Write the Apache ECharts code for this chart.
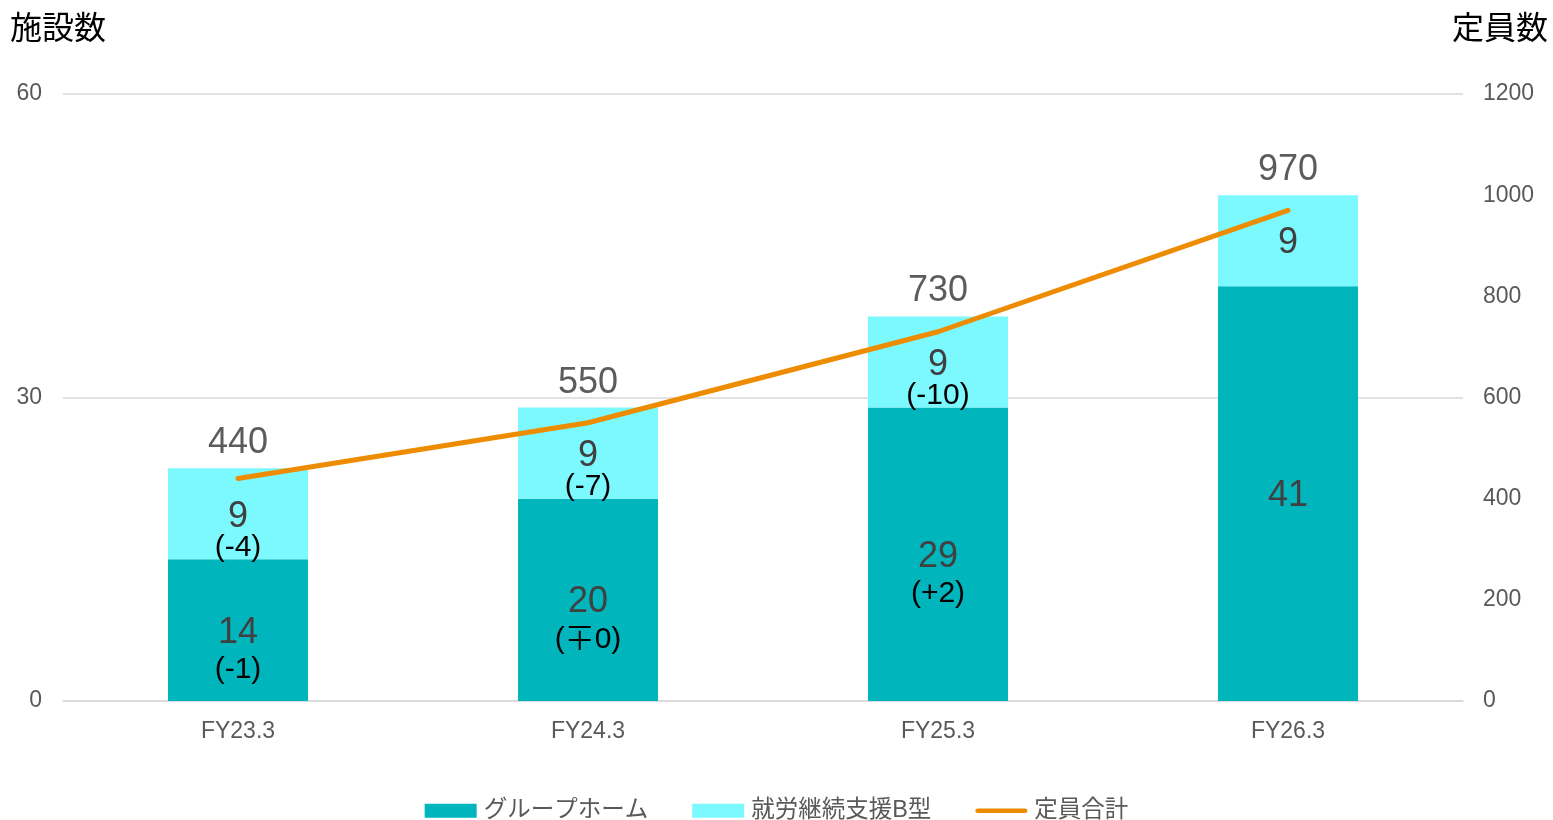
<!DOCTYPE html>
<html>
<head>
<meta charset="utf-8">
<script src="https://cdn.jsdelivr.net/npm/echarts@6/dist/echarts.min.js"></script>
<style>
  html, body { margin: 0; padding: 0; background: #ffffff; }
  #chart { width: 1553px; height: 820px; }
</style>
</head>
<body>
<div id="chart"></div>
<script>
// Fiscal years on the category axis
const categories = ['FY23.3', 'FY24.3', 'FY25.3', 'FY26.3'];
// Facility counts by type (left axis)
const groupHome = [14, 20, 29, 41];
const employmentB = [9, 9, 9, 9];
// Year-on-year change notes shown under the counts ('' = none)
const groupHomeChange = ['(-1)', '(\u22130)', '(+2)', ''];
const employmentBChange = ['(-4)', '(-7)', '(-10)', ''];
// Total capacity (right axis)
const capacity = [440, 550, 730, 970];
// Axis tick settings
const leftTicks = { min: 0, max: 60, interval: 30 };
const rightTicks = { min: 0, max: 1200, interval: 200 };

const FONT = '"Liberation Sans", Arial, "Noto Sans CJK JP", sans-serif';
const stackTop = groupHome.map((v, i) => v + employmentB[i]);

function segmentData(values, changes, shift) {
  return values.map((v, i) => ({
    value: v,
    label: { offset: [0, changes[i] ? shift : 2] }
  }));
}

function segmentLabel(values, changes, lh) {
  return {
    show: true,
    position: 'inside',
    formatter: p => changes[p.dataIndex]
      ? '{v|' + values[p.dataIndex] + '}\n{c|' + changes[p.dataIndex] + '}'
      : '{v|' + values[p.dataIndex] + '}',
    rich: {
      v: { fontSize: 36, color: '#404040', fontFamily: FONT, lineHeight: lh },
      c: { fontSize: 30, color: '#000000', fontFamily: FONT, lineHeight: lh }
    }
  };
}

const chart = echarts.init(document.getElementById('chart'), null, { renderer: 'canvas' });
chart.setOption({
  animation: false,
  textStyle: { fontFamily: FONT },
  grid: { left: 63, right: 90, top: 94, bottom: 119, containLabel: false },
  legend: {
    top: 794,
    left: 'center',
    itemWidth: 52,
    itemHeight: 14,
    itemGap: 44,
    textStyle: { fontSize: 23.5, color: '#595959', fontFamily: FONT, padding: [0, 0, 0, 2] },
    data: [
      { name: 'グループホーム', icon: 'rect' },
      { name: '就労継続支援B型', icon: 'rect' },
      { name: '定員合計', icon: 'path://M2.5,0 H52.5 A2.5,2.5 0 0 1 52.5,5 H2.5 A2.5,2.5 0 0 1 2.5,0 Z' }
    ]
  },
  xAxis: {
    type: 'category',
    data: categories,
    axisLine: { lineStyle: { color: '#d9d9d9', width: 1.5 } },
    axisTick: { show: false },
    axisLabel: { fontSize: 23, color: '#595959', margin: 19 }
  },
  yAxis: [
    {
      type: 'value',
      min: leftTicks.min, max: leftTicks.max, interval: leftTicks.interval,
      name: '施設数',
      nameLocation: 'end',
      nameGap: 48,
      nameTextStyle: { fontSize: 32, color: '#000000', align: 'center', padding: [0, 10, 0, 0] },
      axisLine: { show: false },
      axisTick: { show: false },
      axisLabel: { fontSize: 23, color: '#595959', margin: 21, padding: [3, 0, 0, 0] },
      splitLine: { lineStyle: { color: '#d9d9d9', width: 1.5 } }
    },
    {
      type: 'value',
      min: rightTicks.min, max: rightTicks.max, interval: rightTicks.interval,
      name: '定員数',
      nameLocation: 'end',
      nameGap: 48,
      nameTextStyle: { fontSize: 32, color: '#000000', align: 'center', padding: [0, 0, 0, 74] },
      axisLine: { show: false },
      axisTick: { show: false },
      axisLabel: { fontSize: 23, color: '#595959', margin: 20, padding: [3, 0, 0, 0], formatter: v => String(v) },
      splitLine: { show: false }
    }
  ],
  series: [
    {
      name: 'グループホーム',
      type: 'bar',
      stack: 'facilities',
      barWidth: '40%',
      itemStyle: { color: '#00B5BC' },
      data: segmentData(groupHome, groupHomeChange, 21),
      label: segmentLabel(groupHome, groupHomeChange, 37),
      z: 2
    },
    {
      name: '就労継続支援B型',
      type: 'bar',
      stack: 'facilities',
      barWidth: '40%',
      itemStyle: { color: '#7CF8FF' },
      data: segmentData(employmentB, employmentBChange, 18.5),
      label: segmentLabel(employmentB, employmentBChange, 31),
      z: 2
    },
    {
      // capacity figure placed above each bar stack
      name: 'capacity-label',
      type: 'scatter',
      yAxisIndex: 0,
      symbolSize: 0,
      silent: true,
      data: stackTop,
      label: {
        show: true,
        position: 'top',
        distance: 7,
        formatter: p => String(capacity[p.dataIndex]),
        fontSize: 36,
        color: '#333333'
      },
      z: 3
    },
    {
      name: '定員合計',
      type: 'line',
      yAxisIndex: 1,
      data: capacity,
      showSymbol: false,
      symbol: 'none',
      lineStyle: { color: '#EE8C00', width: 5, cap: 'round' },
      itemStyle: { color: '#EE8C00' },
      z: 5
    }
  ]
});
</script>
</body>
</html>
